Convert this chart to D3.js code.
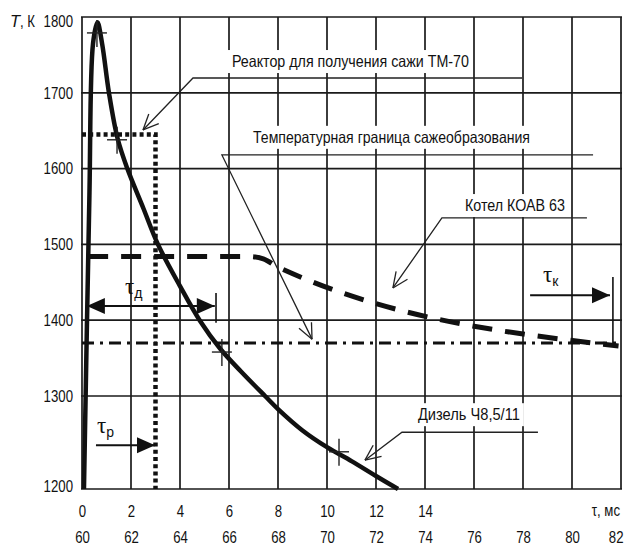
<!DOCTYPE html>
<html>
<head>
<meta charset="utf-8">
<script src="https://cdn.jsdelivr.net/npm/d3@7"></script>
<style>
body { margin: 0; background: #fff; }
svg text { font-family: "Liberation Sans", Arial, sans-serif; font-size: 16.5px; fill: #111; }
.grid line { stroke: #1a1a1a; stroke-width: 1.7; }
</style>
</head>
<body>
<div id="chart"></div>
<script>
// tick labels
var tauTicks = [0, 2, 4, 6, 8, 10, 12, 14];
var tauTicks2 = [60, 62, 64, 66, 68, 70, 72, 74, 76, 78, 80, 82];
var tempTicks = [1200, 1300, 1400, 1500, 1600, 1700, 1800];
var gridTau = [0, 2, 4, 6, 8, 10, 12, 14, 16, 18, 20, 22];

// Дизель Ч8,5/11
var dieselTau  = [0.08, 0.3, 0.45, 0.63, 0.82, 1.1, 1.45, 1.85, 2.5, 3.1, 4.0, 4.8, 5.65, 6.5, 7.47, 8, 9, 10, 11, 12, 12.9];
var dieselTemp = [1200, 1560, 1765, 1793, 1765, 1700, 1640, 1600, 1548, 1500, 1445, 1400, 1362, 1332, 1300, 1286, 1263, 1245, 1230, 1214, 1200];
// marks on the diesel curve
var crossTau  = [0.61, 1.43, 5.71, 10.49];
var crossTemp = [1779, 1638, 1358, 1240];

// Реактор ТМ-70
var reactorTau  = [0, 3, 3];
var reactorTemp = [1645, 1645, 1200];

// Котел КОАВ 63
var boilerTau  = [0.25, 6.8, 7.4, 8, 21.9];
var boilerTemp = [1484, 1484, 1481, 1470, 1366];

// Температурная граница сажеобразования
var sootTau  = [0, 22];
var sootTemp = [1370, 1370];

// callouts: label, text anchor point, leader (end of shelf, start of shelf, arrow tip)
var calloutText = ["Реактор для получения сажи ТМ-70", "Температурная граница сажеобразования", "Котел КОАВ 63", "Дизель Ч8,5/11"];
var calloutPos  = [[6.12, 1734], [6.98, 1634], [15.63, 1544], [13.71, 1274]];
var calloutLead = [
  [[17.96, 1719.5], [4.53, 1719.5], [2.49, 1651]],
  [[20.86, 1618], [5.71, 1618], [9.39, 1375]],
  [[20.61, 1535], [14.69, 1535], [12.69, 1442.5]],
  [[18.61, 1261], [13.06, 1261], [11.55, 1231]]
];
// drawn width of each callout label (narrow face)
var calloutWidth = [237, 277, 100, 102];

var width = 626, height = 546;
var narrow = 0.8;   // squeeze factor to imitate a condensed face

var x = d3.scaleLinear().domain([0, 22]).range([82, 621]);
var x2 = d3.scaleLinear().domain([60, 82]).range([82, 621]);
// lower band 1200-1300 is drawn taller in the original
var y = d3.scaleLinear().domain([1200, 1300, 1800]).range([489, 396, 17]);

var svg = d3.select("#chart").append("svg")
    .attr("width", width)
    .attr("height", height)
    .style("background", "#fff");

function squeeze(sel, k) {
  sel.each(function() {
    var len = this.getComputedTextLength();
    d3.select(this).attr("textLength", len * k).attr("lengthAdjust", "spacingAndGlyphs");
  });
}

// grid
var grid = svg.append("g").attr("class", "grid");
grid.selectAll("line.v").data(gridTau).enter().append("line")
    .attr("class", "v")
    .attr("x1", function(d) { return x(d); }).attr("x2", function(d) { return x(d); })
    .attr("y1", y(1800)).attr("y2", y(1200));
grid.selectAll("line.h").data(tempTicks).enter().append("line")
    .attr("class", "h")
    .attr("x1", x(0) - 1).attr("x2", x(22) + 1)
    .attr("y1", function(d) { return y(d); }).attr("y2", function(d) { return y(d); });

// axes (labels only)
var yAxis = svg.append("g")
    .attr("transform", "translate(" + x(0) + ",0)")
    .call(d3.axisLeft(y).tickValues(tempTicks).tickSize(0).tickPadding(9).tickFormat(d3.format("d")));
var xAxis = svg.append("g")
    .attr("transform", "translate(0," + y(1200) + ")")
    .call(d3.axisBottom(x).tickValues(tauTicks).tickSize(0).tickPadding(16));
var xAxis2 = svg.append("g")
    .attr("transform", "translate(0," + y(1200) + ")")
    .call(d3.axisBottom(x2).tickValues(tauTicks2).tickSize(0).tickPadding(42));
[yAxis, xAxis, xAxis2].forEach(function(a) {
  a.select(".domain").remove();
  a.selectAll("text").attr("fill", "#111").style("font-size", "16.5px")
    .style("font-family", "'Liberation Sans', Arial, sans-serif");
  squeeze(a.selectAll("text"), narrow);
});
// end labels sit a little inside the frame
yAxis.selectAll(".tick").filter(function(d) { return d === 1800; }).select("text").attr("dy", "0.55em");
yAxis.selectAll(".tick").filter(function(d) { return d === 1200; }).select("text").attr("dy", "0.15em");
xAxis2.selectAll(".tick").filter(function(d) { return d === 82; }).select("text")
    .attr("text-anchor", "end").attr("x", 2);

// axis title: italic T, then the unit
svg.append("text").attr("x", 10).attr("y", y(1800) + 10)
    .style("font-style", "italic").text("T");
var yl = svg.append("text").attr("x", 20).attr("y", y(1800) + 10).text(", К");
squeeze(yl, narrow);

var xl = svg.append("text")
    .attr("x", x(22) - 1).attr("y", y(1200) + 27)
    .attr("text-anchor", "end")
    .text("τ, мс");
squeeze(xl, narrow);

function pts(taus, temps) {
  return taus.map(function(t, i) { return [x(t), y(temps[i])]; });
}
var line = d3.line();

// soot formation boundary
svg.append("path")
    .attr("d", line(pts(sootTau, sootTemp)))
    .attr("fill", "none").attr("stroke", "#111").attr("stroke-width", 3)
    .attr("stroke-dasharray", "12,6,3,6");

// boiler
svg.append("path")
    .attr("d", d3.line().curve(d3.curveMonotoneX)(pts(boilerTau, boilerTemp)))
    .attr("fill", "none").attr("stroke", "#111").attr("stroke-width", 5)
    .attr("stroke-dasharray", "20,13");

// reactor
svg.append("path")
    .attr("d", line(pts(reactorTau, reactorTemp)))
    .attr("fill", "none").attr("stroke", "#111").attr("stroke-width", 4.5)
    .attr("stroke-dasharray", "4,3.2");

// diesel
svg.append("path")
    .attr("d", d3.line().curve(d3.curveCatmullRom.alpha(0.5))(pts(dieselTau, dieselTemp)))
    .attr("fill", "none").attr("stroke", "#111").attr("stroke-width", 4.5)
    .attr("stroke-linejoin", "round");

// cross marks
var cr = svg.append("g").attr("stroke", "#222").attr("stroke-width", 1.4);
crossTau.forEach(function(t, i) {
  var cx = x(t), cy = y(crossTemp[i]);
  cr.append("line").attr("x1", cx - 10).attr("x2", cx + 10).attr("y1", cy).attr("y2", cy);
  cr.append("line").attr("x1", cx).attr("x2", cx).attr("y1", cy - 13).attr("y2", cy + 14);
});

// callouts: white box, text, leader with open arrow
calloutText.forEach(function(txt, i) {
  var g = svg.append("g");
  var tx = x(calloutPos[i][0]), ty = y(calloutPos[i][1]);
  g.append("rect").attr("fill", "#fff")
      .attr("x", tx - 4).attr("y", ty - 17).attr("width", calloutWidth[i] + 8).attr("height", 23);
  g.append("text")
      .attr("x", tx).attr("y", ty)
      .attr("textLength", calloutWidth[i]).attr("lengthAdjust", "spacingAndGlyphs")
      .text(txt);

  var p = calloutLead[i].map(function(d) { return [x(d[0]), y(d[1])]; });
  g.append("path").attr("d", line(p))
      .attr("fill", "none").attr("stroke", "#222").attr("stroke-width", 1.3);
  var tip = p[2], from = p[1];
  var ang = Math.atan2(from[1] - tip[1], from[0] - tip[0]);
  [-0.42, 0.42].forEach(function(da) {
    g.append("line")
        .attr("x1", tip[0]).attr("y1", tip[1])
        .attr("x2", tip[0] + 17 * Math.cos(ang + da)).attr("y2", tip[1] + 17 * Math.sin(ang + da))
        .attr("stroke", "#222").attr("stroke-width", 1.3);
  });
});

// filled arrow helpers for tau intervals
function head(tx, ty, dir) {
  var l = 18, w = 8;
  return "M" + tx + "," + ty + "L" + (tx - dir * l) + "," + (ty - w) + "L" + (tx - dir * l) + "," + (ty + w) + "Z";
}
var ar = svg.append("g");
function hArrow(t1, t2, temp, both) {
  var yy = y(temp);
  ar.append("line").attr("x1", x(t1)).attr("x2", x(t2)).attr("y1", yy).attr("y2", yy)
      .attr("stroke", "#111").attr("stroke-width", 2);
  ar.append("path").attr("d", head(x(t2), yy, 1)).attr("fill", "#111");
  if (both) ar.append("path").attr("d", head(x(t1), yy, -1)).attr("fill", "#111");
}
function vBar(t, temp1, temp2) {
  ar.append("line").attr("x1", x(t)).attr("x2", x(t)).attr("y1", y(temp1)).attr("y2", y(temp2))
      .attr("stroke", "#111").attr("stroke-width", 1.6);
}
function tauLabel(t, temp, sub) {
  var tt = svg.append("text")
      .attr("x", x(t)).attr("y", y(temp))
      .style("font-family", "'Liberation Serif', serif").style("font-size", "23px");
  tt.append("tspan").text("τ");
  tt.append("tspan").attr("dy", 4).style("font-size", "14px")
      .style("font-family", "'Liberation Sans', Arial, sans-serif").text(sub);
}

// tau_д
hArrow(0.2, 5.42, 1418.7, true);
vBar(5.47, 1436, 1396.8);
tauLabel(1.76, 1434.6, "д");
// tau_р
hArrow(0.57, 2.98, 1247, false);
tauLabel(0.61, 1260, "р");
// tau_к
hArrow(18.29, 21.55, 1433, false);
vBar(21.67, 1457, 1364.6);
tauLabel(18.82, 1450, "к");
</script>
</body>
</html>
